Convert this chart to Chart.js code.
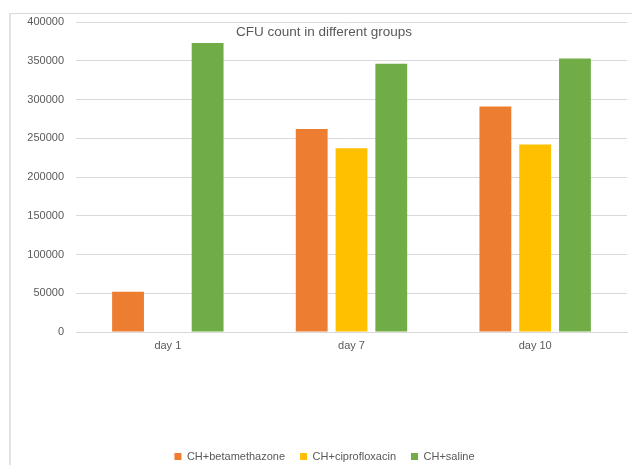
<!DOCTYPE html>
<html>
<head>
<meta charset="utf-8">
<script src="https://cdn.jsdelivr.net/npm/chart.js"></script>
<style>
  html, body { margin: 0; padding: 0; background: #fff; }
  #wrap { position: relative; width: 632px; height: 465px; }
  #frame { position: absolute; left: 9px; top: 13px; right: -5px; bottom: -5px;
           border-top: 1px solid #d9d9d9; border-left: 2px solid #e3e3e3; }
  canvas { position: absolute; left: 0; top: 0; }
</style>
</head>
<body>
<div id="wrap">
  <div id="frame"></div>
  <canvas id="cfuChart" width="632" height="465"></canvas>
</div>
<script>
// chart data
const days = ['day 1', 'day 7', 'day 10'];
const betamethazone = [52000, 262000, 291000];
const ciprofloxacin = [null, 237000, 242000];
const saline = [373000, 346000, 353000];
const yTicks = [0, 50000, 100000, 150000, 200000, 250000, 300000, 350000, 400000];

const grey = '#595959';
const font = '"Liberation Sans", Arial, sans-serif';

// title sits inside the plot, like the Excel original
const titleInside = {
    id: 'titleInside',
    afterDraw(chart) {
        const ctx = chart.ctx;
        ctx.save();
        ctx.font = '13.5px ' + font;
        ctx.fillStyle = grey;
        ctx.textAlign = 'center';
        ctx.textBaseline = 'middle';
        ctx.fillText('CFU count in different groups', chart.width / 2 + 8, chart.chartArea.top + 10);
        ctx.restore();
    }
};

new Chart(document.getElementById('cfuChart'), {
    type: 'bar',
    data: {
        labels: days,
        datasets: [
            { label: 'CH+betamethazone', data: betamethazone, backgroundColor: '#ED7D31' },
            { label: 'CH+ciprofloxacin', data: ciprofloxacin, backgroundColor: '#FFC000' },
            { label: 'CH+saline', data: saline, backgroundColor: '#70AD47' }
        ]
    },
    options: {
        responsive: false,
        animation: false,
        datasets: { bar: { categoryPercentage: 0.65, barPercentage: 0.8 } },
        layout: { padding: { left: 22, right: 5, top: 22, bottom: -7 } },
        plugins: {
            title: { display: false },
            tooltip: { enabled: false },
            legend: {
                position: 'bottom',
                labels: {
                    boxWidth: 7, boxHeight: 7, padding: 15, color: grey,
                    font: { size: 11, family: font }
                }
            }
        },
        scales: {
            x: {
                grid: { display: false, drawTicks: false },
                border: { color: '#d9d9d9' },
                ticks: { color: grey, padding: 7, font: { size: 11, family: font } },
                afterFit(scale) { scale.height = 104; }
            },
            y: {
                min: 0, max: 400000,
                afterBuildTicks(scale) { scale.ticks = yTicks.map(v => ({ value: v })); },
                afterFit(scale) { scale.width = 54; },
                grid: { color: '#d9d9d9', drawTicks: false },
                border: { display: false },
                ticks: {
                    color: grey, padding: 12, font: { size: 11, family: font },
                    callback: v => String(v)
                }
            }
        }
    },
    plugins: [titleInside]
});
</script>
</body>
</html>
